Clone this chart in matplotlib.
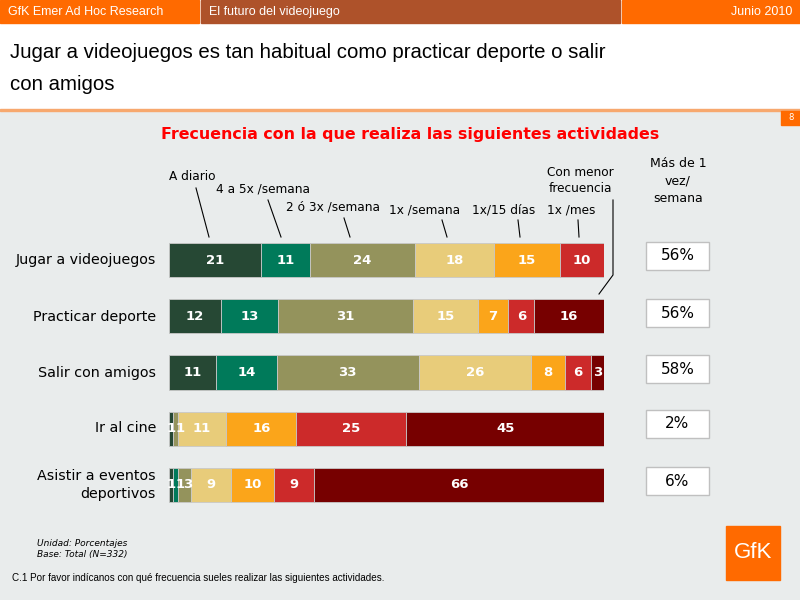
import numpy as np
import matplotlib
matplotlib.use("Agg")
import matplotlib.pyplot as plt
from matplotlib.patches import Rectangle

plt.rcParams['font.family'] = ['DejaVu Sans']

activities = ["Jugar a videojuegos", "Practicar deporte", "Salir con amigos",
              "Ir al cine", "Asistir a eventos\ndeportivos"]
frequencies = ["A diario", "4 a 5x /semana", "2 ó 3x /semana", "1x /semana",
               "1x/15 días", "1x /mes", "Con menor\nfrecuencia"]
values = np.array([
    [21, 11, 24, 18, 15, 10, 0],
    [12, 13, 31, 15, 7, 6, 16],
    [11, 14, 33, 26, 8, 6, 3],
    [1, 0, 1, 11, 16, 25, 45],
    [1, 1, 3, 9, 10, 9, 66],
])
mas_de_1 = ["56%", "56%", "58%", "2%", "6%"]
colors = ["#264834", "#007A5A", "#94935C", "#E8CC7A", "#FBA51A", "#CC2A2A", "#770000"]

narrow = ['Liberation Sans', 'DejaVu Sans']
W, H = 800, 600

fig = plt.figure(figsize=(8, 6), dpi=100)
fig.patch.set_facecolor("#E9ECEC")

# background / decoration layer in pixel coords
bg = fig.add_axes([0, 0, 1, 1], zorder=0)
bg.set_xlim(0, W)
bg.set_ylim(H, 0)
bg.axis("off")
bg.add_patch(Rectangle((0, 0), W, 110, color="white"))
bg.add_patch(Rectangle((0, 0), 199, 23, color="#FF6A00"))
bg.add_patch(Rectangle((201, 0), 419, 23, color="#AE522A"))
bg.add_patch(Rectangle((622, 0), 178, 23, color="#FF6A00"))
bg.add_patch(Rectangle((0, 109), W, 2, color="#F7A86E"))
bg.add_patch(Rectangle((781, 111), 19, 14, color="#FF6A00"))
bg.add_patch(Rectangle((726, 526), 54, 54, color="#FF6A00"))

# bars
ax = fig.add_axes([169 / W, 1 - 513.125 / H, 435 / W, 281.25 / H], zorder=1)
ax.set_facecolor("none")
pct = values / values.sum(axis=1, keepdims=True) * 100
left = np.zeros(len(activities))
prev_right = np.full(len(activities), -10.0)
char_w = 1.95  # approx. width of one digit in data units
for j in range(len(frequencies)):
    ax.barh(range(len(activities)), pct[:, j], left=left, height=0.61,
            color=colors[j], edgecolor="#C8C8C8", linewidth=0.6)
    for i in range(len(activities)):
        if values[i, j] > 0:
            txt = str(values[i, j])
            half = len(txt) * char_w / 2
            cx = left[i] + pct[i, j] / 2
            if cx - half < prev_right[i]:
                cx = prev_right[i] + half
            prev_right[i] = cx + half
            ax.text(cx, i, txt, ha="center", va="center", color="white",
                    fontsize=9.5, fontweight="bold")
    left += pct[:, j]
ax.set_xlim(0, 100)
ax.set_ylim(len(activities) - 0.5, -0.5)
ax.axis("off")

# text layer
ov = fig.add_axes([0, 0, 1, 1], zorder=2)
ov.set_xlim(0, W)
ov.set_ylim(H, 0)
ov.axis("off")
ov.set_facecolor("none")

ov.text(8, 12, "GfK Emer Ad Hoc Research", color="white", fontsize=9,
        va="center", family=narrow)
ov.text(209, 12, "El futuro del videojuego", color="white", fontsize=9,
        va="center", family=narrow)
ov.text(792, 12, "Junio 2010", color="white", fontsize=9, va="center",
        ha="right", family=narrow)
ov.text(10, 52, "Jugar a videojuegos es tan habitual como practicar deporte o salir",
        fontsize=14.7, va="center", family=narrow)
ov.text(10, 84, "con amigos", fontsize=14.7, va="center", family=narrow)
ov.text(791, 118, "8", color="white", fontsize=6, ha="center", va="center")
ov.text(410, 135, "Frecuencia con la que realiza las siguientes actividades",
        color="#FF0000", fontsize=11.4, fontweight="bold", ha="center", va="center")

label_pos = [(192, 177), (263, 189), (333, 207), (425, 210), (504, 210), (571, 210)]
leaders = [((196, 188), (209, 237)), ((268, 200), (281, 237)), ((344, 218), (350, 237)),
           ((442, 220), (447, 237)), ((518, 220), (520, 237)), ((578, 220), (579, 237))]
for name, (x, y), (p0, p1) in zip(frequencies[:6], label_pos, leaders):
    ov.text(x, y, name, fontsize=8.7, ha="center", va="center")
    ov.plot([p0[0], p1[0]], [p0[1], p1[1]], color="black", lw=0.8)
ov.text(580, 181, frequencies[6], fontsize=8.7, ha="center", va="center",
        linespacing=1.3)
ov.plot([613, 613, 599], [200, 275, 294], color="black", lw=0.8)

ov.text(678, 181, "Más de 1\nvez/\nsemana", fontsize=9, ha="center", va="center",
        linespacing=1.45)

row_y = [260, 317, 373, 428, 485]
for name, y in zip(activities, row_y):
    ov.text(156, y, name, fontsize=10.3, ha="right", va="center", linespacing=1.3)
for val, y in zip(mas_de_1, row_y):
    ov.add_patch(Rectangle((646, y - 18), 63, 28, facecolor="white",
                           edgecolor="#C0C0C0", lw=1))
    ov.text(677.5, y - 4, val, fontsize=11, ha="center", va="center")

ov.text(37, 544, "Unidad: Porcentajes", fontsize=6.5, style="italic", va="center")
ov.text(37, 555, "Base: Total (N=332)", fontsize=6.5, style="italic", va="center")
ov.text(12, 578, "C.1 Por favor indícanos con qué frecuencia sueles realizar las siguientes actividades.",
        fontsize=7.1, va="center", family=narrow)
ov.text(753, 553, "GfK", color="white", fontsize=16, ha="center", va="center",
        family=narrow)

fig.savefig("out.png", dpi=100, facecolor=fig.get_facecolor())
